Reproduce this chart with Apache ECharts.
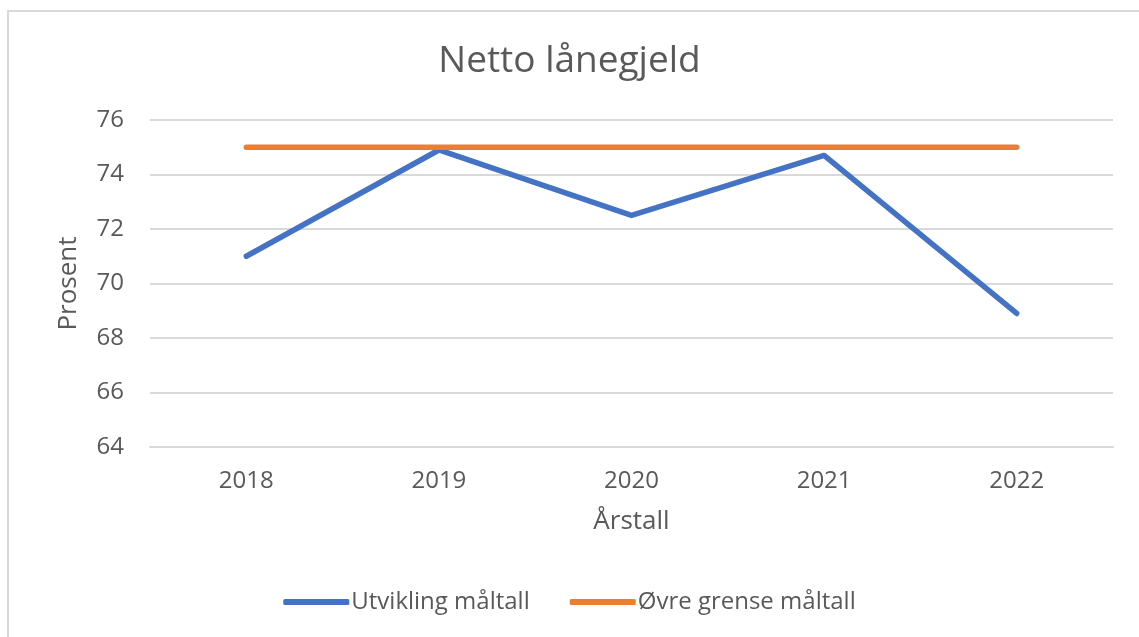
<!DOCTYPE html>
<html>
<head>
<meta charset="utf-8">
<script src="https://cdn.jsdelivr.net/npm/echarts@6/dist/echarts.min.js"></script>
<style>
  html, body { margin: 0; padding: 0; background: #fff; }
  #frame {
    position: absolute; left: 7px; top: 10px; width: 1140px; height: 640px;
    border-top: 2px solid #d9d9d9; border-left: 2px solid #d9d9d9;
  }
  #chart { position: absolute; left: 0; top: 0; width: 1139px; height: 637px; }
</style>
</head>
<body>
<div id="frame"></div>
<div id="chart"></div>
<script>
  // data
  const years = ['2018', '2019', '2020', '2021', '2022']
  const utvikling = [71.0, 74.9, 72.5, 74.7, 68.9]
  const ovreGrense = [75, 75, 75, 75, 75]

  const font = '"Open Sans", sans-serif'
  const grey = '#595959'

  const chartObj = echarts.init(document.getElementById('chart'))
  const options = {
    animation: false,
    title: {
      text: 'Netto lånegjeld',
      left: 'center',
      top: 38,
      textStyle: { fontFamily: font, fontSize: 37, fontWeight: 'normal', color: grey }
    },
    legend: {
      bottom: 18,
      left: 'center',
      icon: 'roundRect',
      itemWidth: 66,
      itemHeight: 6,
      itemGap: 40,
      textStyle: { fontFamily: font, fontSize: 24, color: grey, padding: [0, 0, 0, -3] },
      data: ['Utvikling måltall', 'Øvre grense måltall']
    },
    grid: { left: 150, right: 26, top: 120, bottom: 190 },
    xAxis: {
      type: 'category',
      data: years,
      name: 'Årstall',
      nameLocation: 'middle',
      nameGap: 62,
      nameTextStyle: { fontFamily: font, fontSize: 26, color: grey },
      axisLine: { lineStyle: { color: '#d9d9d9', width: 2 } },
      axisTick: { show: false },
      axisLabel: { fontFamily: font, fontSize: 24, color: grey, margin: 22 }
    },
    yAxis: {
      type: 'value',
      min: 64,
      max: 76,
      interval: 2,
      name: 'Prosent',
      nameLocation: 'middle',
      nameGap: 68,
      nameTextStyle: { fontFamily: font, fontSize: 26, color: grey },
      axisLine: { show: false },
      axisTick: { show: false },
      axisLabel: { fontFamily: font, fontSize: 24, color: grey, margin: 26 },
      splitLine: { lineStyle: { color: '#d9d9d9', width: 2 } }
    },
    series: [
      {
        name: 'Utvikling måltall',
        type: 'line',
        data: utvikling,
        showSymbol: false,
        color: '#4472c4',
        lineStyle: { width: 5.5, cap: 'round', join: 'round' }
      },
      {
        name: 'Øvre grense måltall',
        type: 'line',
        data: ovreGrense,
        showSymbol: false,
        color: '#ed7d31',
        lineStyle: { width: 5.5, cap: 'round' }
      }
    ]
  }
  chartObj.setOption(options)
</script>
</body>
</html>
